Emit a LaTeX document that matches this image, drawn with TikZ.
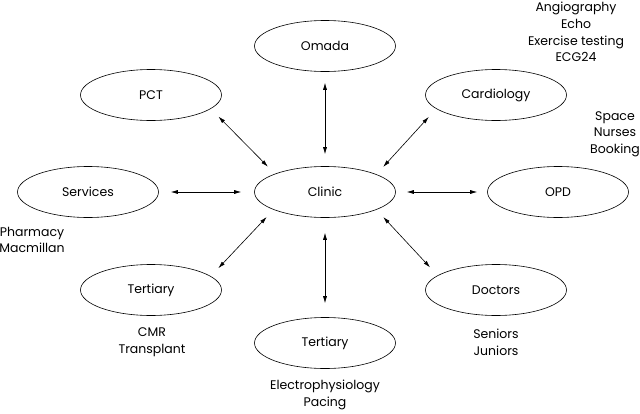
\documentclass[tikz,border=0pt]{standalone}
\usepackage{fontspec}
\setmainfont{Poppins}
\usetikzlibrary{shapes.geometric,arrows.meta}
\begin{document}
\begin{tikzpicture}[x=1pt,y=-1pt,
  oval/.style={ellipse,draw,line width=0.6pt,minimum width=141pt,minimum height=51pt,inner sep=0pt,font=\fontsize{12.5}{15}\selectfont},
  note/.style={align=center,inner sep=0pt,font=\fontsize{12.5}{16.6}\selectfont},
  link/.style={{Latex[length=7pt,width=4pt]}-{Latex[length=7pt,width=4pt]},line width=0.6pt}]
\useasboundingbox[fill=white] (0,0) rectangle (640,413);
\node[oval] (omada) at (325,46) {Omada};
\node[oval] (pct) at (151,95) {PCT};
\node[oval] (card) at (496,95) {Cardiology};
\node[oval] (serv) at (88,192) {Services};
\node[oval] (clinic) at (325,192) {Clinic};
\node[oval] (opd) at (558,192) {OPD};
\node[oval] (tertl) at (151,290) {Tertiary};
\node[oval] (doct) at (496,290) {Doctors};
\node[oval] (tertb) at (325,343) {Tertiary};
\node[note] (n1) at (576,32) {Angiography\\Echo\\Exercise testing\\ECG24};
\node[note] (n2) at (615,134) {Space\\Nurses\\Booking};
\node[note] (n3) at (32,240) {Pharmacy\\Macmillan};
\node[note] (n4) at (152,342) {CMR\\Transplant};
\node[note] (n5) at (496,342) {Seniors\\Juniors};
\node[note] (n6) at (325,395) {Electrophysiology\\Pacing};
\draw[link,shorten <=11pt,shorten >=12pt] (omada.south) -- (clinic.north);
\draw[link,shorten <=15pt,shorten >=14pt] (clinic.south) -- (tertb.north);
\draw[link,shorten <=12pt,shorten >=13pt] (serv.east) -- (clinic.west);
\draw[link,shorten <=11pt,shorten >=10pt] (clinic.east) -- (opd.west);
\draw[link,shorten <=11pt,shorten >=10pt] (pct.-13.3) -- (clinic.160.2);
\draw[link,shorten <=11pt,shorten >=10pt] (card.193.3) -- (clinic.19.8);
\draw[link,shorten <=11pt,shorten >=10pt] (tertl.13.3) -- (clinic.199.8);
\draw[link,shorten <=11pt,shorten >=10pt] (doct.166.7) -- (clinic.-19.8);
\end{tikzpicture}
\end{document}
